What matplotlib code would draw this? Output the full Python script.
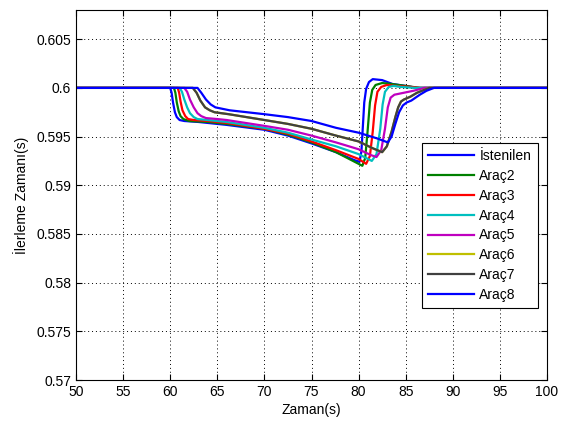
import numpy as np
import matplotlib
matplotlib.use('Agg')
from matplotlib import pyplot as plt
from matplotlib.ticker import FuncFormatter

plt.rcParams['font.family'] = ['Liberation Sans', 'DejaVu Sans']
plt.rcParams['font.size'] = 10

# values (time in s, headway in s)
ist_t = [50, 60.0, 60.15, 60.3, 60.5, 60.7, 61.0, 61.5, 63, 66, 70, 72.5, 75, 77.6, 79.5, 80.1, 80.3, 80.45, 80.6, 80.8, 81.1, 81.5, 82.5, 83.6, 85, 86.2, 100]
ist_y = [0.6, 0.6, 0.5995, 0.5985, 0.5975, 0.5970, 0.5967, 0.5966, 0.5965, 0.5962, 0.5957, 0.5951, 0.5943, 0.5934, 0.5926, 0.5924, 0.5935, 0.5960, 0.5985, 0.5999, 0.6006, 0.6009, 0.6008, 0.6004, 0.6002, 0.6, 0.6]

arac2_t = [50, 60.4, 60.55, 60.7, 60.9, 61.1, 61.4, 62, 64, 66, 70, 72.5, 75, 77.6, 80, 80.4, 80.7, 80.95, 81.2, 81.45, 81.8, 82.5, 83.5, 85, 86.5, 100]
arac2_y = [0.6, 0.6, 0.5995, 0.5985, 0.5976, 0.5971, 0.5968, 0.5966, 0.5965, 0.5963, 0.5958, 0.5952, 0.5944, 0.5934, 0.5922, 0.5920, 0.5928, 0.5955, 0.5985, 0.5998, 0.6003, 0.6005, 0.6004, 0.6002, 0.6, 0.6]

arac3_t = [50, 60.8, 60.95, 61.1, 61.3, 61.6, 61.9, 62.5, 64, 66, 70, 72.5, 75, 77.6, 80, 80.8, 81.2, 81.5, 81.75, 82.0, 82.4, 83.0, 84, 85.5, 86.5, 100]
arac3_y = [0.6, 0.6, 0.5995, 0.5986, 0.5977, 0.5971, 0.5968, 0.5967, 0.5966, 0.5964, 0.5958, 0.5953, 0.5945, 0.5936, 0.5927, 0.5922, 0.5930, 0.5955, 0.5982, 0.5996, 0.6001, 0.6003, 0.6002, 0.6001, 0.6, 0.6]

arac4_t = [50, 61.0, 61.25, 61.5, 61.8, 62.1, 62.5, 62.9, 64, 66, 70, 72.5, 75, 77.6, 80, 81.4, 81.9, 82.3, 82.55, 82.8, 83.2, 83.7, 84.5, 86, 100]
arac4_y = [0.6, 0.6, 0.5996, 0.5988, 0.5980, 0.5974, 0.5970, 0.5968, 0.5967, 0.5965, 0.5959, 0.5954, 0.5947, 0.5940, 0.5932, 0.5925, 0.5932, 0.5958, 0.5983, 0.5996, 0.6001, 0.6002, 0.6001, 0.6, 0.6]

arac5_t = [50, 61.5, 61.8, 62.1, 62.5, 62.9, 63.3, 63.8, 65, 66, 70, 72.5, 75, 77.6, 80, 81.3, 81.9, 82.4, 82.8, 83.1, 83.4, 83.8, 84.8, 85.8, 87, 100]
arac5_y = [0.6, 0.6, 0.5996, 0.5988, 0.5980, 0.5974, 0.5971, 0.5969, 0.5968, 0.5967, 0.5961, 0.5957, 0.5951, 0.5944, 0.5937, 0.5931, 0.5929, 0.5936, 0.5958, 0.5980, 0.5990, 0.5993, 0.5995, 0.5997, 0.6, 0.6]

# Arac6 is not visible in the picture: it lies under Arac7
arac6_t = [50, 62.4, 62.8, 63.2, 63.7, 64.2, 64.7, 66.2, 70, 72.5, 75, 77.6, 80, 81.5, 82.5, 83.0, 83.5, 83.9, 84.2, 84.5, 84.8, 85.5, 86.2, 87.5, 100]
arac6_y = [0.6, 0.6, 0.5995, 0.5987, 0.5980, 0.5977, 0.5975, 0.5973, 0.5967, 0.5963, 0.5958, 0.5951, 0.5945, 0.5938, 0.5934, 0.5940, 0.5955, 0.5970, 0.5980, 0.5986, 0.5988, 0.5991, 0.5995, 0.6, 0.6]

arac7_t = [50, 62.4, 62.8, 63.2, 63.7, 64.2, 64.7, 66.2, 70, 72.5, 75, 77.6, 80, 81.5, 82.5, 83.0, 83.5, 83.9, 84.2, 84.5, 84.8, 85.5, 86.2, 87.5, 100]
arac7_y = [0.6, 0.6, 0.5995, 0.5987, 0.5980, 0.5977, 0.5975, 0.5973, 0.5967, 0.5963, 0.5958, 0.5951, 0.5945, 0.5938, 0.5934, 0.5940, 0.5955, 0.5970, 0.5980, 0.5986, 0.5988, 0.5991, 0.5995, 0.6, 0.6]

arac8_t = [50, 62.9, 63.3, 63.8, 64.3, 64.8, 65.3, 66.3, 70, 72.5, 75, 77.6, 80, 82, 83.1, 83.5, 83.9, 84.3, 84.7, 85.1, 85.6, 86.5, 87.2, 88, 100]
arac8_y = [0.6, 0.6, 0.5995, 0.5988, 0.5983, 0.5980, 0.5979, 0.5977, 0.5973, 0.5970, 0.5966, 0.5959, 0.5954, 0.5948, 0.5944, 0.5950, 0.5963, 0.5975, 0.5982, 0.5985, 0.5987, 0.5993, 0.5997, 0.6, 0.6]

labels = ['İstenilen', 'Araç2', 'Araç3', 'Araç4', 'Araç5', 'Araç6', 'Araç7', 'Araç8']
# matlab default-ish colours
colors = ['#0000FF', '#008000', '#FF0000', '#00BFBF', '#BF00BF', '#BFBF00', '#404040', '#0000FF']

x_ticks = [50, 55, 60, 65, 70, 75, 80, 85, 90, 95, 100]
y_ticks = [0.57, 0.575, 0.58, 0.585, 0.59, 0.595, 0.6, 0.605]

series = [(ist_t, ist_y), (arac2_t, arac2_y), (arac3_t, arac3_y), (arac4_t, arac4_y),
          (arac5_t, arac5_y), (arac6_t, arac6_y), (arac7_t, arac7_y), (arac8_t, arac8_y)]

fig = plt.figure(figsize=(5.72, 4.25), dpi=100)
ax = fig.add_axes([76 / 572, 45 / 425, 471 / 572, 370 / 425])

for (t, y), lab, c in zip(series, labels, colors):
    ax.plot(t, y, color=c, lw=1.6, label=lab)

ax.set_xlim(50, 100)
ax.set_ylim(0.57, 0.608)
ax.set_xticks(x_ticks)
ax.set_yticks(y_ticks)
ax.yaxis.set_major_formatter(FuncFormatter(lambda v, p: f'{v:g}'))
ax.tick_params(direction='in', top=True, right=True, length=4, width=0.8, labelsize=10, colors='black')
for s in ax.spines.values():
    s.set_linewidth(0.8)
ax.grid(True, linestyle=(0, (1, 3)), color='black', linewidth=0.7)

ax.set_xlabel('Zaman(s)', fontsize=10, labelpad=3)
ax.set_ylabel('İlerleme Zamanı(s)', fontsize=10, labelpad=5)

leg = ax.legend(loc='upper right', bbox_to_anchor=(0.98, 0.641), borderaxespad=0,
                fancybox=False, edgecolor='black', framealpha=1, fontsize=10,
                handlelength=3.3, labelspacing=0.42, borderpad=0.45, handletextpad=0.4)
leg.get_frame().set_linewidth(0.8)

plt.savefig('out.png', dpi=100)
plt.close()
